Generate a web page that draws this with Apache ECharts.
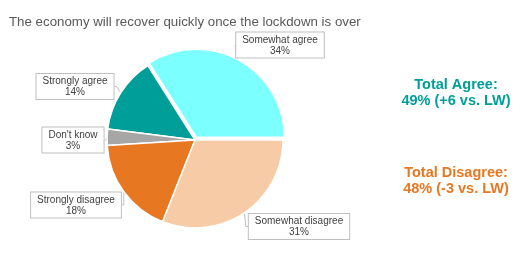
<!DOCTYPE html>
<html><head><meta charset="utf-8">
<script src="https://cdn.jsdelivr.net/npm/echarts@6/dist/echarts.min.js"></script>
<style>html,body{margin:0;padding:0;background:#fff}#c{width:526px;height:255px}</style>
</head><body><div id="c"></div>
<script>
const categories = ['Somewhat agree','Strongly agree',"Don't know",'Strongly disagree','Somewhat disagree'];
const values = [34, 14, 3, 18, 31];
const colors = ['#7BFFFF','#009E98','#A6A6A6','#E87722','#F7CBA6'];
const explodedIndex = 0;
const titleText = 'The economy will recover quickly once the lockdown is over';
const agreeText = ['Total Agree:', '49% (+6 vs. LW)'];
const disagreeText = ['Total Disagree:', '48% (-3 vs. LW)'];

const FONT = "Arial";
const labelPos = [[280,45],[75,86.5],[73,140],[76,205],[299,226.5]];
const CX = 195, CY = 140, R = 88, OFFSET = 3;

// angle of exploded slice middle (counterclockwise from 3 o'clock)
const total = values.reduce((a,b)=>a+b,0);
let before = 0; for (let i=0;i<explodedIndex;i++) before += values[i];
const midAng = (before + values[explodedIndex]/2)/total*2*Math.PI;
const exCenter = [CX + OFFSET*Math.cos(midAng), CY - OFFSET*Math.sin(midAng)];

const base = {
  type:'pie', radius:[0,R], startAngle:0, clockwise:false, silent:true,
  itemStyle:{borderColor:'#fff', borderWidth:1.5}
};

const chart = echarts.init(document.getElementById('c'), null, {renderer:'canvas'});
chart.setOption({
  animation:false,
  title:[
    {text:titleText, left:4, top:11, textStyle:{fontFamily:FONT, fontSize:13.3, fontWeight:'normal', color:'#595959'}},
    {text:agreeText.join('\n'), left:451, top:72, textAlign:'center', textStyle:{fontFamily:FONT, fontSize:14.5, fontWeight:'bold', color:'#009E98', lineHeight:16, align:'center'}},
    {text:disagreeText.join('\n'), left:451, top:160, textAlign:'center', textStyle:{fontFamily:FONT, fontSize:14.5, fontWeight:'bold', color:'#E87722', lineHeight:16, align:'center'}}
  ],
  series:[
    Object.assign({}, base, {
      center:[CX,CY],
      label:{
        show:true, position:'outside',
        formatter:p=>'{a|'+p.name+'}\n{a|'+p.value+'%}',
        rich:{a:{fontFamily:FONT, fontSize:10, color:'#404040', lineHeight:11, align:'center'}},
        backgroundColor:'#fff', borderColor:'#BFBFBF', borderWidth:1,
        padding:[2,6,1,6]
      },
      labelLayout:function(p){
        const pos = labelPos[p.dataIndex];
        return {x:pos[0], y:pos[1], align:'center', verticalAlign:'middle'};
      },
      labelLine:{show:true, length:2, length2:2, lineStyle:{color:'#BFBFBF', width:1}},
      data: categories.map((n,i)=>({name:n, value:values[i],
        itemStyle: i===explodedIndex ? {color:'rgba(0,0,0,0)', borderWidth:0} : {color:colors[i]}}))
    }),
    Object.assign({}, base, {
      center:exCenter,
      label:{show:false}, labelLine:{show:false},
      data: categories.map((n,i)=>({name:n, value:values[i],
        itemStyle: i===explodedIndex ? {color:colors[i]} : {color:'rgba(0,0,0,0)', borderWidth:0}}))
    })
  ]
});
</script></body></html>
